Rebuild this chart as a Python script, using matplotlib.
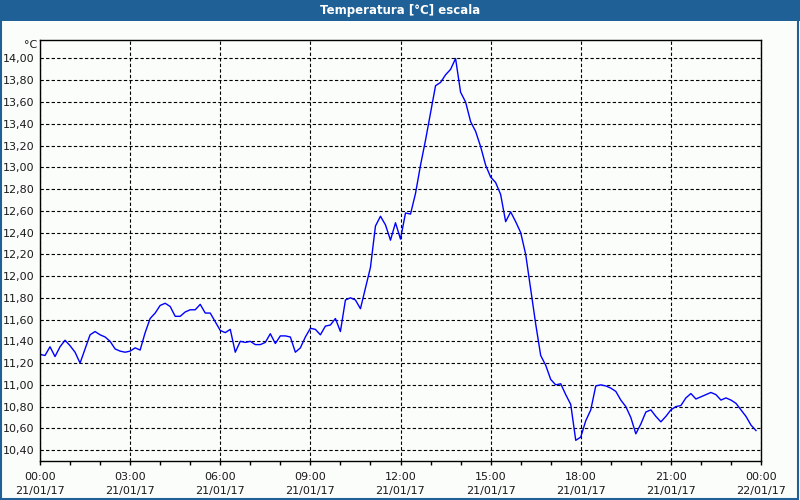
# Temperatura [°C] escala - 21/01/17
import numpy as np
import matplotlib.pyplot as plt
from matplotlib.patches import Rectangle

# temperature every 10 minutes, from 00:00 to 23:50
temps = [
    11.28, 11.27, 11.35, 11.26, 11.35, 11.41, 11.36, 11.30, 11.20, 11.33,
    11.46, 11.49, 11.46, 11.44, 11.40, 11.33, 11.31, 11.30, 11.31, 11.34,
    11.32, 11.48, 11.61, 11.66, 11.73, 11.75, 11.72, 11.63, 11.63, 11.67,
    11.69, 11.69, 11.74, 11.66, 11.66, 11.58, 11.50, 11.48, 11.51, 11.30,
    11.40, 11.39, 11.40, 11.37, 11.37, 11.39, 11.47, 11.38, 11.45, 11.45,
    11.44, 11.30, 11.34, 11.44, 11.52, 11.51, 11.46, 11.54, 11.55, 11.61,
    11.49, 11.78, 11.80, 11.78, 11.70, 11.89, 12.08, 12.46, 12.55, 12.47,
    12.33, 12.49, 12.34, 12.58, 12.57, 12.76, 13.02, 13.25, 13.50, 13.75,
    13.78, 13.85, 13.90, 14.00, 13.69, 13.60, 13.42, 13.33, 13.19, 13.02,
    12.91, 12.86, 12.75, 12.50, 12.59, 12.50, 12.40, 12.20, 11.88, 11.56,
    11.27, 11.18, 11.05, 11.00, 11.01, 10.91, 10.82, 10.49, 10.52, 10.67,
    10.77, 10.99, 11.00, 10.99, 10.97, 10.94, 10.86, 10.80, 10.70, 10.55,
    10.64, 10.75, 10.77, 10.71, 10.66, 10.71, 10.77, 10.80, 10.81, 10.88,
    10.92, 10.87, 10.89, 10.91, 10.93, 10.91, 10.86, 10.88, 10.86, 10.83,
    10.77, 10.71, 10.63, 10.58,
]
hours = np.arange(len(temps)) * 10 / 60.0

tick_hours = [0, 3, 6, 9, 12, 15, 18, 21, 24]
tick_labels = ["00:00\n21/01/17", "03:00\n21/01/17", "06:00\n21/01/17",
               "09:00\n21/01/17", "12:00\n21/01/17", "15:00\n21/01/17",
               "18:00\n21/01/17", "21:00\n21/01/17", "00:00\n22/01/17"]
y_ticks = np.round(np.arange(10.4, 14.01, 0.2), 2)

bg = '#fbfdfb'
blue = '#1f6196'

fig = plt.figure(figsize=(8, 5), dpi=100, facecolor=bg)

# title bar and frame
fig.patches.append(Rectangle((0, 1 - 21 / 500), 1, 21 / 500, transform=fig.transFigure,
                             facecolor=blue, edgecolor='none', zorder=0))
fig.patches.append(Rectangle((0.001, 0.002), 0.997, 0.996, transform=fig.transFigure,
                             facecolor='none', edgecolor=blue, linewidth=1.5, zorder=5))
fig.text(0.5, 1 - 10.5 / 500, "Temperatura [°C] escala", color='white', fontweight='bold',
         fontsize=8.5, ha='center', va='center')

ax = fig.add_axes([40 / 800, 1 - 461 / 500, 721 / 800, 421 / 500])
ax.set_facecolor(bg)
ax.plot(hours, temps, color='#0000ff', linewidth=1)

ax.set_xlim(0, 24)
ax.set_ylim(10.30, 14.17)
ax.set_xticks(tick_hours)
ax.set_xticklabels(tick_labels, fontsize=8, color='#1a1a1a', linespacing=1.45)
ax.set_xticks(np.arange(0, 25, 1), minor=True)
ax.set_yticks(y_ticks)
ax.set_yticklabels([f"{v:.2f}".replace('.', ',') for v in y_ticks], fontsize=8, color='#1a1a1a')

ax.tick_params(axis='x', which='both', direction='out', length=3, width=1, pad=5)
ax.tick_params(axis='y', length=0, pad=4)
ax.grid(True, which='major', color='black', linestyle=(0, (3, 2)), linewidth=0.8)
for s in ax.spines.values():
    s.set_color('black')
    s.set_linewidth(1)

ax.text(-0.004, 1.0, "°C", transform=ax.transAxes, ha='right', va='top', fontsize=8,
        color='#1a1a1a')

fig.savefig('out.png', dpi=100, facecolor=bg)
